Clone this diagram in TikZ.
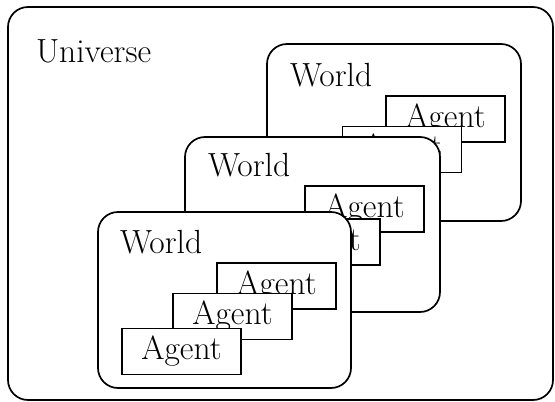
\documentclass[tikz,border=0pt]{standalone}
\begin{document}
\begin{tikzpicture}[x=1pt,y=-1pt,
  every node/.style={inner sep=0pt, outer sep=0pt},
  label text/.style={font=\fontsize{33.5}{40}\selectfont},
  realm/.style={draw, line width=1.7pt, rounded corners=20pt, fill=white},
  agentbox/.style={draw, line width=1.7pt, fill=white, minimum width=119pt,
    minimum height=46pt, label text}]
  \useasboundingbox (0,0) rectangle (555,402);

  % the enclosing universe
  \node[realm, minimum width=545pt, minimum height=393pt] (universe) at (280.5,203.5) {};
  \node[label text, anchor=base west] (universeLabel) at (36,62) {Universe};

  % back world
  \node[realm, minimum width=254pt, minimum height=177pt] (worldC) at (394,132.5) {};
  \node[label text, anchor=base west] (worldCLabel) at (290,86) {World};
  \node[agentbox] (agentCa) at (445.5,119) {Agent};
  \node[agentbox] (agentCb) at (402,149.5) {Agent};

  % middle world
  \node[realm, minimum width=255pt, minimum height=175pt] (worldB) at (312.5,224.5) {};
  \node[label text, anchor=base west] (worldBLabel) at (208,176) {World};
  \node[agentbox] (agentBa) at (364.5,209) {Agent};
  \node[agentbox] (agentBb) at (320.5,242) {Agent};

  % front world
  \node[realm, minimum width=253pt, minimum height=176pt] (worldA) at (224.5,300) {};
  \node[label text, anchor=base west] (worldALabel) at (120,253) {World};
  \node[agentbox] (agentAa) at (276.5,286) {Agent};
  \node[agentbox] (agentAb) at (232.5,316.5) {Agent};
  \node[agentbox] (agentAc) at (181.5,351.5) {Agent};
\end{tikzpicture}
\end{document}
